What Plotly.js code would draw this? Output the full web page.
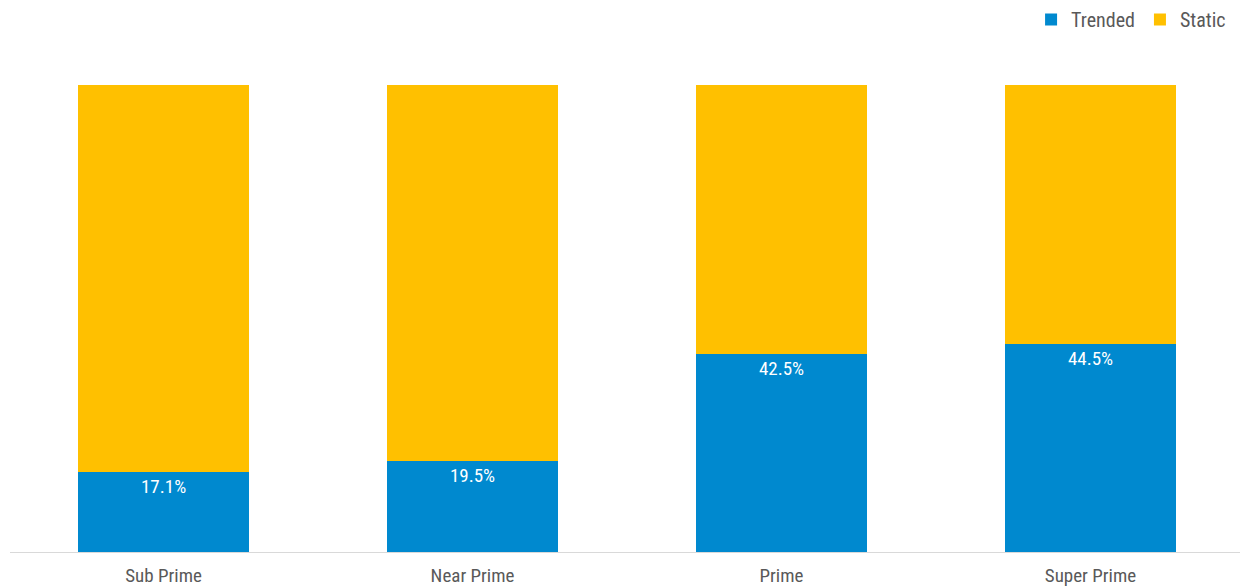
<!DOCTYPE html>
<html><head><meta charset="utf-8">
<script src="https://cdn.plot.ly/plotly-3.0.1.min.js"></script>
<style>body{margin:0;padding:0;background:#fff}#chart{width:1241px;height:587px}</style>
</head><body><div id="chart"></div>
<script>
const categories = ["Sub Prime", "Near Prime", "Prime", "Super Prime"];
const trended = [17.1, 19.5, 42.5, 44.5];
const staticVals = [82.9, 80.5, 57.5, 55.5];
const trendedLabels = ["17.1%", "19.5%", "42.5%", "44.5%"];

const FONT = "'Roboto Condensed', Roboto, sans-serif";

const traces = [
  {type:'bar', name:'Trended', x:categories, y:trended, marker:{color:'#0089cf'},
   text:trendedLabels, textposition:'inside', insidetextanchor:'end',
   textfont:{color:'#ffffff', size:19, family:FONT}, hoverinfo:'skip'},
  {type:'bar', name:'Static', x:categories, y:staticVals, marker:{color:'#ffc000'},
   hoverinfo:'skip'}
];

const layout = {
  barmode:'stack', bargap:0.447,
  width:1241, height:587,
  margin:{l:10, r:1, t:85, b:35},
  paper_bgcolor:'#fff', plot_bgcolor:'#fff',
  font:{family:FONT, color:'#595959', size:19},
  showlegend:true,
  legend:{orientation:'h', traceorder:'normal', xref:'container', x:0.992, xanchor:'right',
          y:1, yref:'container', yanchor:'top',
          font:{size:20, color:'#595959'}, itemwidth:30, tracegroupgap:0},
  xaxis:{range:[-0.497, 3.484], showline:true, linecolor:'#d9d9d9', linewidth:1,
         ticks:'outside', ticklen:6, tickcolor:'rgba(0,0,0,0)',
         tickfont:{size:19, color:'#595959'}, fixedrange:true},
  yaxis:{range:[0,100], visible:false, showgrid:false, zeroline:false, fixedrange:true}
};
Plotly.newPlot('chart', traces, layout, {displayModeBar:false, staticPlot:true});
</script></body></html>
